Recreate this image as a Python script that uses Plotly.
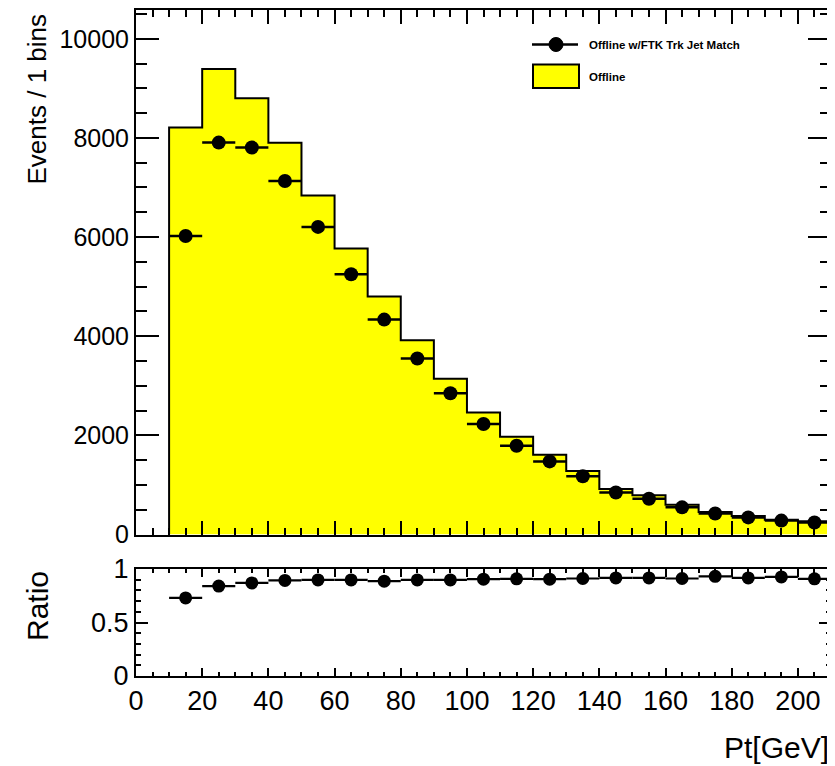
import plotly.graph_objects as go

# ---------------- data ----------------
pt_centers = [15, 25, 35, 45, 55, 65, 75, 85, 95, 105,
              115, 125, 135, 145, 155, 165, 175, 185, 195, 205]
bin_width = 10
offline = [8210, 9390, 8800, 7900, 6840, 5770, 4800, 3920, 3140, 2460,
           1970, 1610, 1280, 920, 790, 600, 455, 375, 300, 265]
matched = [6020, 7905, 7805, 7130, 6205, 5250, 4335, 3550, 2850, 2230,
           1790, 1475, 1175, 846, 722, 548, 425, 345, 280, 242]
ratio = [0.73, 0.84, 0.87, 0.893, 0.898, 0.898, 0.886, 0.898, 0.898, 0.905,
         0.908, 0.905, 0.911, 0.917, 0.917, 0.911, 0.932, 0.917, 0.926, 0.908]
x_ticks = [0, 20, 40, 60, 80, 100, 120, 140, 160, 180, 200]
ratio_ticks = [0, 0.5, 1]
ratio_ticklabels = ["0", "0.5", "1"]
legend_labels = ["Offline w/FTK Trk Jet Match", "Offline"]

# ---------------- layout geometry (window pixels) ----------------
OFF = 8                      # default page body margin
WIN_W, WIN_H = 835, 766
W, H = WIN_W - OFF, WIN_H - OFF
L, R = 136, 831              # plot area in window pixels
T, B = 10, 676
top_bottom_px = 534.5
bot_top_px = 569


def px_x(p):
    return (p - L) / (R - L)


def px_y(p):
    return (B - p) / (B - T)


FONT = "Liberation Sans, Arial, Helvetica, sans-serif"

edges = [c - bin_width / 2 for c in pt_centers] + [pt_centers[-1] + bin_width / 2]
xs = [edges[0]] + edges[:-1] + [edges[-1], edges[-1]]
ys = [0] + offline + [offline[-1], 0]

fig = go.Figure()

# Offline filled step histogram
fig.add_trace(go.Scatter(
    x=xs, y=ys, mode="lines", line=dict(shape="hv", color="black", width=2),
    fill="tozeroy", fillcolor="#FFFF00", showlegend=False,
    xaxis="x", yaxis="y", hoverinfo="skip"))

# Matched points
fig.add_trace(go.Scatter(
    x=pt_centers, y=matched, mode="markers",
    marker=dict(color="black", size=14, symbol="circle"),
    error_x=dict(type="constant", value=bin_width / 2, thickness=2.5, width=0, color="black"),
    showlegend=False, xaxis="x", yaxis="y"))

# Ratio points
fig.add_trace(go.Scatter(
    x=pt_centers, y=ratio, mode="markers",
    marker=dict(color="black", size=13, symbol="circle"),
    error_x=dict(type="constant", value=bin_width / 2, thickness=2.2, width=0, color="black"),
    showlegend=False, xaxis="x2", yaxis="y2"))

axis_common = dict(showline=True, linecolor="black", linewidth=2, mirror="allticks",
                   ticks="inside", tickcolor="black", tickwidth=1.5,
                   showgrid=False, zeroline=False)

top_dom = [px_y(top_bottom_px), 1]
bot_dom = [0, px_y(bot_top_px)]

fig.update_layout(
    width=W, height=H,
    margin=dict(l=L - OFF, r=WIN_W - R, t=T - OFF, b=WIN_H - B, autoexpand=False),
    paper_bgcolor="white", plot_bgcolor="white",
    showlegend=False,
    font=dict(family=FONT, color="black"),
    xaxis=dict(domain=[0, 1], range=[0, 210], anchor="y", tickvals=x_ticks,
               showticklabels=False, ticklen=14,
               minor=dict(dtick=5, ticklen=7, ticks="inside", tickcolor="black", tickwidth=1.5),
               **axis_common),
    yaxis=dict(domain=top_dom, range=[0, 10580], anchor="x", dtick=2000, tickformat="d",
               ticklen=23, tickfont=dict(size=25, family=FONT),
               minor=dict(dtick=500, ticklen=11, ticks="inside", tickcolor="black", tickwidth=1.5),
               **axis_common),
    xaxis2=dict(domain=[0, 1], range=[0, 210], anchor="y2", tickvals=x_ticks,
                ticklen=8, tickfont=dict(size=27, family=FONT),
                minor=dict(dtick=5, ticklen=4, ticks="inside", tickcolor="black", tickwidth=1.5),
                **axis_common),
    yaxis2=dict(domain=bot_dom, range=[0, 1.0], anchor="x2", tickvals=ratio_ticks,
                ticktext=ratio_ticklabels, ticklen=12, tickfont=dict(size=27, family=FONT),
                minor=dict(dtick=0.1, ticklen=5, ticks="inside", tickcolor="black", tickwidth=1.5),
                **axis_common),
)

annotations = [
    dict(text="Events / 1 bins", x=px_x(36), y=px_y(12), xref="paper", yref="paper",
         textangle=-90, xanchor="center", yanchor="top", showarrow=False,
         font=dict(size=26, family=FONT)),
    dict(text="Ratio", x=px_x(37), y=px_y(569), xref="paper", yref="paper",
         textangle=-90, xanchor="center", yanchor="top", showarrow=False,
         font=dict(size=30, family=FONT)),
    dict(text="Pt[GeV]", x=px_x(831), y=px_y(747), xref="paper", yref="paper",
         xanchor="right", yanchor="middle", showarrow=False,
         font=dict(size=30, family=FONT)),
    dict(text="<b>%s</b>" % legend_labels[0], x=px_x(587), y=px_y(44.5), xref="paper", yref="paper",
         xanchor="left", yanchor="middle", showarrow=False,
         font=dict(size=11.5, family=FONT)),
    dict(text="<b>%s</b>" % legend_labels[1], x=px_x(587), y=px_y(76.5), xref="paper", yref="paper",
         xanchor="left", yanchor="middle", showarrow=False,
         font=dict(size=11.5, family=FONT)),
]

shapes = [
    # legend entry 1: line + marker
    dict(type="line", xref="paper", yref="paper", x0=px_x(532), x1=px_x(578),
         y0=px_y(44.5), y1=px_y(44.5), line=dict(color="black", width=2.5)),
    dict(type="circle", xref="paper", yref="paper", x0=px_x(549), x1=px_x(563),
         y0=px_y(51.5), y1=px_y(37.5), fillcolor="black", line=dict(color="black", width=1)),
    # legend entry 2: yellow box
    dict(type="rect", xref="paper", yref="paper", x0=px_x(533), x1=px_x(579),
         y0=px_y(88), y1=px_y(64.5), fillcolor="#FFFF00", line=dict(color="black", width=2)),
]

fig.update_layout(annotations=annotations, shapes=shapes)

fig.write_html("out.html")
